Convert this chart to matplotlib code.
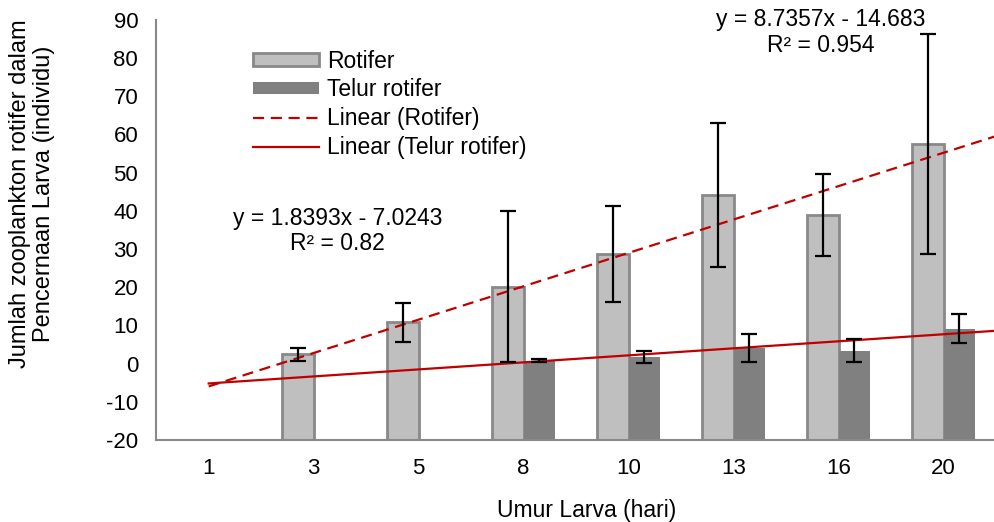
import numpy as np
import matplotlib.pyplot as plt
from matplotlib.lines import Line2D
from matplotlib.patches import Patch

plt.rcParams['font.family'] = ['Liberation Sans', 'DejaVu Sans']
plt.rcParams['axes.unicode_minus'] = False

# Data
umur = ["1", "3", "5", "8", "10", "13", "16", "20"]
rotifer = [np.nan, 2.4, 10.8, 20.1, 28.7, 44.2, 38.9, 57.5]
rotifer_err = [np.nan, 1.6, 5.2, 19.8, 12.5, 18.8, 10.8, 28.9]
telur = [np.nan, np.nan, np.nan, 0.8, 1.7, 4.0, 3.4, 9.1]
telur_err = [np.nan, np.nan, np.nan, 0.3, 1.5, 3.7, 3.1, 3.8]

# Trendline coefficients (Excel)
rot_slope, rot_int = 8.7357, -14.683
tel_slope, tel_int = 1.8393, -7.0243

ymin = -20
x = np.arange(1, len(umur) + 1)
w = 0.3
red = "#C00000"
dash = (0, (5, 3))

fig = plt.figure(figsize=(9.95, 5.22), dpi=100)
ax = fig.add_axes([0.157, 0.157, 0.844, 0.805])

rot = np.array(rotifer)
tel = np.array(telur)
ax.bar(x - w / 2, rot - ymin, bottom=ymin, width=w, color="#BFBFBF",
       edgecolor="#898989", linewidth=2, zorder=2)
ax.bar(x + w / 2, tel - ymin, bottom=ymin, width=w, color="#808080",
       linewidth=0, zorder=2)
ax.errorbar(x - w / 2, rot, yerr=rotifer_err, fmt="none", ecolor="black",
            elinewidth=1.6, capsize=6, capthick=1.6, zorder=4)
ax.errorbar(x + w / 2, tel, yerr=telur_err, fmt="none", ecolor="black",
            elinewidth=1.6, capsize=6, capthick=1.6, zorder=4)

xt = np.array([1, 8.5])
ax.plot(xt, rot_slope * xt + rot_int, color=red, linestyle=dash,
        linewidth=1.6, zorder=3)
ax.plot(xt, tel_slope * xt + tel_int, color=red, linestyle="-",
        linewidth=1.6, zorder=3)

ax.set_xlim(0.5, 8.5)
ax.set_ylim(-20, 90)
ax.set_yticks(np.arange(-20, 91, 10))
ax.set_xticks(x)
ax.set_xticklabels(umur)
ax.tick_params(length=0, labelsize=16, colors="black")
ax.tick_params(axis="x", pad=13)
ax.tick_params(axis="y", pad=13)
for s in ["top", "right"]:
    ax.spines[s].set_visible(False)
for s in ["left", "bottom"]:
    ax.spines[s].set_color("#898989")
    ax.spines[s].set_linewidth(1.5)

ax.set_xlabel("Umur Larva (hari)", fontsize=16.5, labelpad=14)
ax.xaxis.label.set_x(0.512)
fig.text(0.032, 0.628, "Jumlah zooplankton rotifer dalam\nPencernaan Larva (individu)",
         rotation=90, ha="center", va="center", fontsize=17, linespacing=1.08)

ax.text(2.23, 34.7, "y = 1.8393x - 7.0243\nR² = 0.82", ha="center", va="center",
        fontsize=16.5, linespacing=1.15)
ax.text(6.83, 86.7, "y = 8.7357x - 14.683\nR² = 0.954", ha="center", va="center",
        fontsize=16.5, linespacing=1.15)

handles = [
    Patch(facecolor="#BFBFBF", edgecolor="#898989", linewidth=2),
    Patch(facecolor="#808080", linewidth=0),
    Line2D([], [], color=red, linestyle=dash, linewidth=1.6),
    Line2D([], [], color=red, linewidth=1.6),
]
labels = ["Rotifer", "Telur rotifer", "Linear (Rotifer)", "Linear (Telur rotifer)"]
fig.legend(handles, labels, loc="upper left", bbox_to_anchor=(0.254, 0.905),
           frameon=False, fontsize=16.5, handlelength=2.9, handleheight=0.45,
           labelspacing=0.25, handletextpad=0.35, borderpad=0, borderaxespad=0)

fig.savefig("out.png", dpi=100)
